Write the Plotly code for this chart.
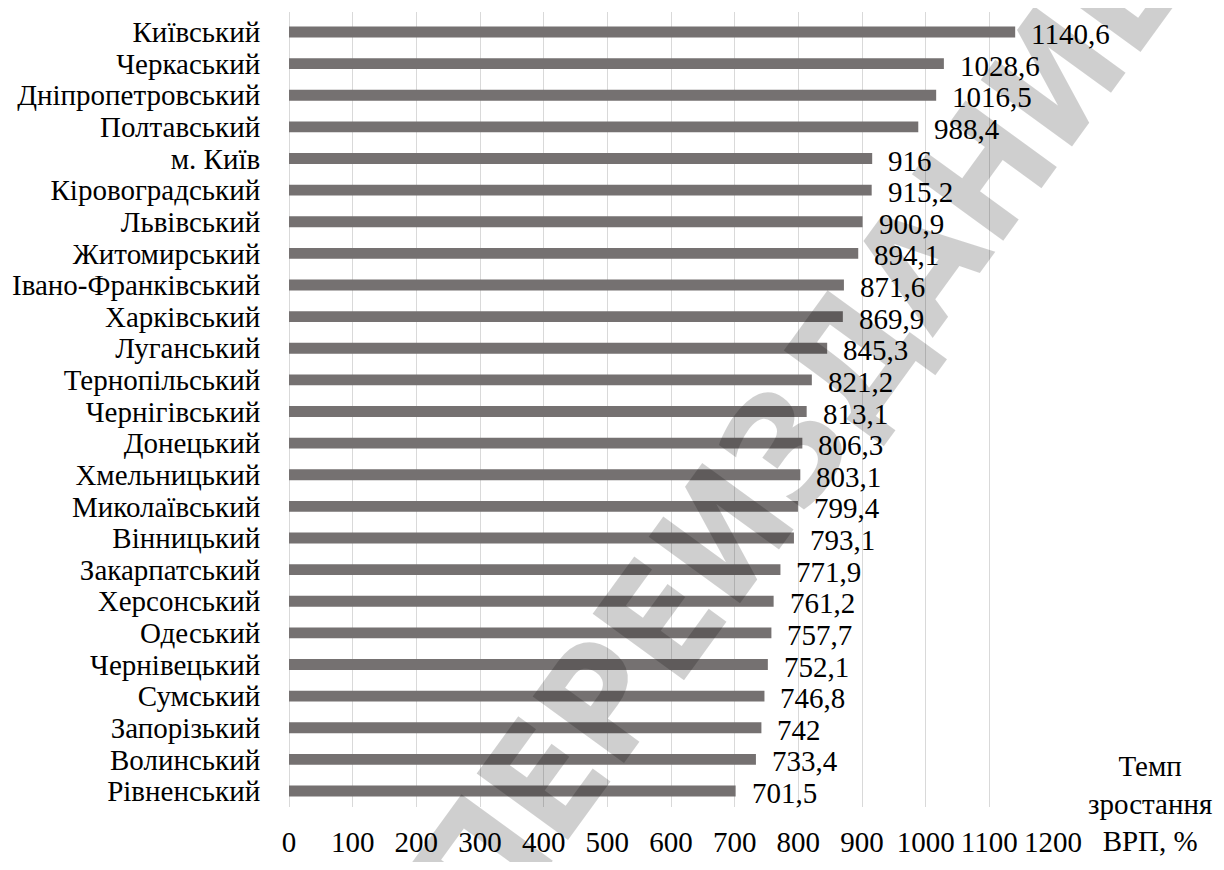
import plotly.graph_objects as go

regions = ["Київський", "Черкаський", "Дніпропетровський", "Полтавський", "м. Київ",
           "Кіровоградський", "Львівський", "Житомирський", "Івано-Франківський",
           "Харківський", "Луганський", "Тернопільський", "Чернігівський", "Донецький",
           "Хмельницький", "Миколаївський", "Вінницький", "Закарпатський", "Херсонський",
           "Одеський", "Чернівецький", "Сумський", "Запорізький", "Волинський", "Рівненський"]
growth = [1140.6, 1028.6, 1016.5, 988.4, 916, 915.2, 900.9, 894.1, 871.6, 869.9, 845.3,
          821.2, 813.1, 806.3, 803.1, 799.4, 793.1, 771.9, 761.2, 757.7, 752.1, 746.8,
          742, 733.4, 701.5]
x_ticks = [0, 100, 200, 300, 400, 500, 600, 700, 800, 900, 1000, 1100, 1200]
axis_title = "Темп<br>зростання<br>ВРП, %"
watermark = "ПЕРЕИЗДАНИЕ"

SERIF = "Liberation Serif"
FS = 29
BAR = "#757171"

def fmt(v):
    s = ("%g" % v)
    return s.replace(".", ",")

fig = go.Figure()
fig.add_trace(go.Bar(
    x=growth, y=regions, orientation="h",
    marker=dict(color=BAR, line=dict(width=0)),
    hoverinfo="x+y",
))

for r, v in zip(regions, growth):
    fig.add_annotation(x=v, y=r, xref="x", yref="y", text=fmt(v), showarrow=False,
                       xanchor="left", yanchor="middle", xshift=14, yshift=-2,
                       font=dict(family=SERIF, size=FS, color="#000000"))

fig.add_annotation(x=1.127, y=0.004, xref="paper", yref="paper", text=axis_title,
                   showarrow=False, xanchor="center", yanchor="middle", align="center",
                   font=dict(family=SERIF, size=FS, color="#000000"))

fig.add_annotation(x=0.665, y=0.47, xref="paper", yref="paper", text="<b>" + watermark + "</b>",
                   showarrow=False, textangle=-54, xanchor="center", yanchor="middle",
                   font=dict(family="DejaVu Sans Condensed",
                             size=155, color="rgba(0,0,0,0.19)"))

fig.update_layout(
    width=1208, height=854,
    margin=dict(l=280, r=163, t=4, b=39),
    paper_bgcolor="white", plot_bgcolor="white",
    bargap=0.66, showlegend=False,
    font=dict(family=SERIF, size=FS, color="#000000"),
)
fig.update_xaxes(range=[0, 1200], tickmode="array", tickvals=x_ticks,
                 ticktext=[str(t) for t in x_ticks],
                 showgrid=True, gridcolor="#d9d9d9", gridwidth=1,
                 zeroline=True, zerolinecolor="#d9d9d9", zerolinewidth=1,
                 showline=False, ticks="outside", ticklen=9, tickcolor="rgba(0,0,0,0)",
                 tickfont=dict(family=SERIF, size=FS, color="#000000"))
fig.update_yaxes(autorange="reversed", tickmode="array", tickvals=regions, ticktext=regions,
                 showgrid=False, showline=False,
                 ticks="outside", ticklen=22, tickcolor="rgba(0,0,0,0)",
                 tickfont=dict(family=SERIF, size=FS, color="#000000"))

fig.write_html("out.html")
